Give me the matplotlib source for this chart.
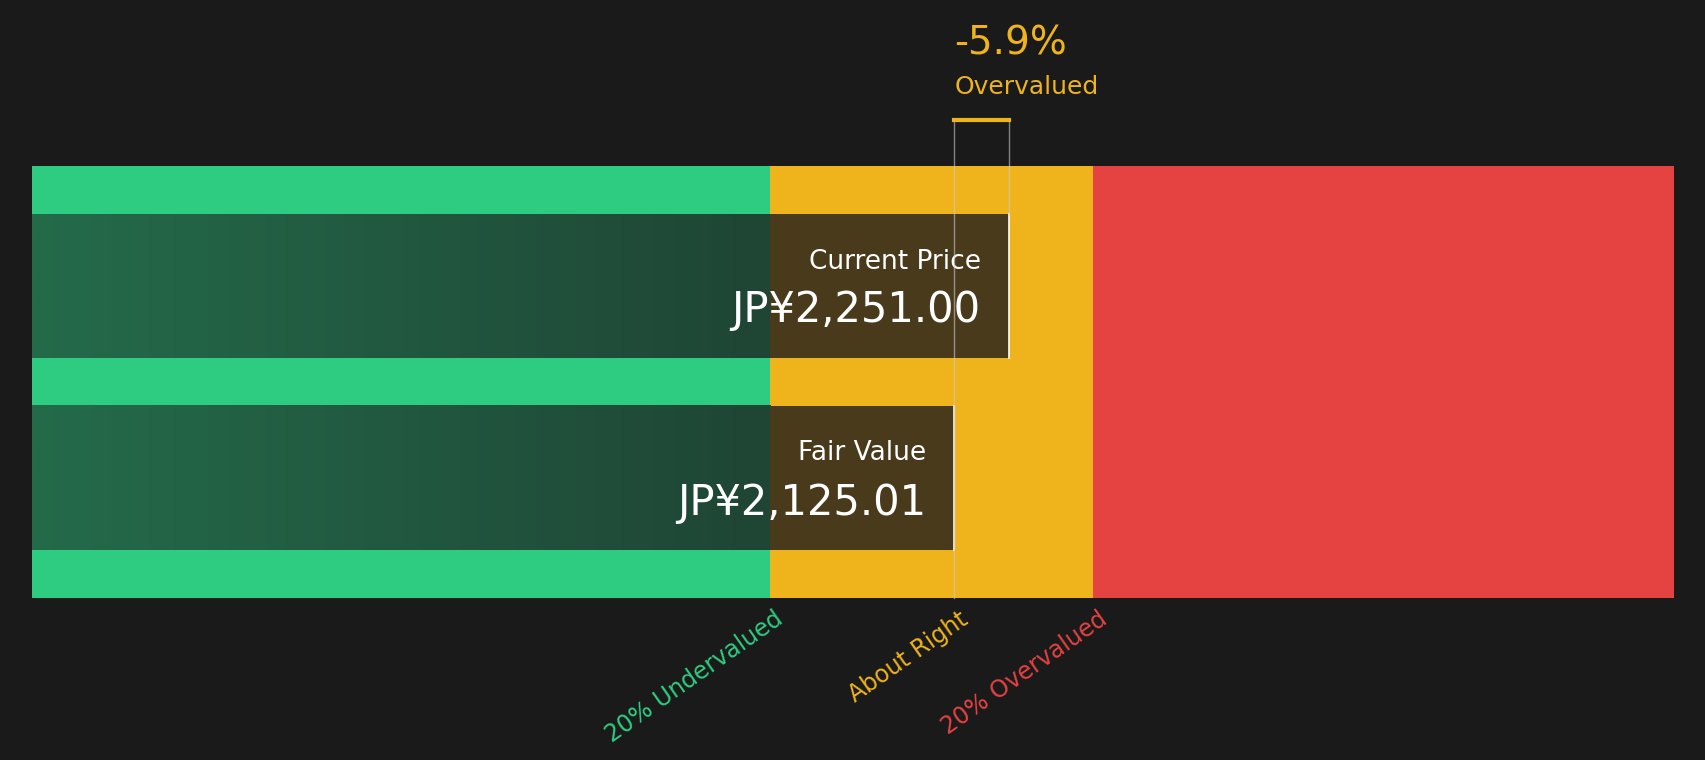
import matplotlib
matplotlib.use("Agg")
import matplotlib.pyplot as plt
import numpy as np

labels = ["Current Price", "Fair Value"]
values = [2251.00, 2125.01]
value_text = ["JP¥2,251.00", "JP¥2,125.01"]
zone_edges = [0, 1700, 2445, 3782]
zone_colors = ["#2ecc80", "#efb31c", "#e54242"]
zone_labels = ["20% Undervalued", "About Right", "20% Overvalued"]
pct_text = "-5.9%"
status_text = "Overvalued"

BG = "#1a1a1a"
fig = plt.figure(figsize=(17.06, 7.6), dpi=100, facecolor=BG)
ax = fig.add_axes([0.0185, 0.213, 0.9625, 0.568])
ax.set_facecolor(BG)
ax.set_xlim(zone_edges[0], zone_edges[-1])
ax.set_ylim(0, 397)
ax.axis("off")

for i in range(3):
    ax.axvspan(zone_edges[i], zone_edges[i+1], color=zone_colors[i], lw=0)

bars = [(353-132, 132), (44, 133)]  # (top offset from bottom, height): current top, fair lower
ybot = [397-176, 44]
h = [132, 133]
for i, v in enumerate(values):
    y0 = ybot[i]
    grad = np.linspace(0, 1, 256)[None, :]
    cmap = matplotlib.colors.LinearSegmentedColormap.from_list("g", ["#246b4a", "#1f4535"])
    ax.imshow(grad, extent=[0, zone_edges[1], y0, y0+h[i]], aspect="auto", cmap=cmap, zorder=2)
    ax.fill_between([zone_edges[1], v], y0, y0+h[i], color="#4a3a1c", lw=0, zorder=2)
    ax.plot([v, v], [y0, y0+h[i]], color="white", lw=1.2, zorder=3)
    off = 24 / 0.399 * (1706/1568) / (1706/1568)
    ax.text(v - 65, y0 + h[i]*0.67, labels[i], color="white", fontsize=19, ha="right", va="center", zorder=4)
    ax.text(v - 65, y0 + h[i]*0.33, value_text[i], color="white", fontsize=30, ha="right", va="center", zorder=4)

ax.set_aspect("auto")
cur, fv = values
ax.plot([fv, fv], [0, 440], color="#cccccc", lw=1, alpha=0.6, clip_on=False, zorder=5)
ax.plot([cur, cur], [397-44, 440], color="#cccccc", lw=1, alpha=0.6, clip_on=False, zorder=5)
ax.plot([fv, cur], [440, 440], color="#efb31c", lw=3, clip_on=False, zorder=6)
ax.text(fv, 510, pct_text, color="#efb31c", fontsize=28, ha="left", va="center", clip_on=False)
ax.text(fv, 470, status_text, color="#efb31c", fontsize=18, ha="left", va="center", clip_on=False)

lab_x = [zone_edges[1], fv, zone_edges[2]]
for x, t, c in zip(lab_x, zone_labels, zone_colors):
    ax.text(x + 10, -8, t, color=c, fontsize=17, rotation=35, ha="right", va="top",
            rotation_mode="anchor", clip_on=False)

fig.savefig("out.png", dpi=100, facecolor=BG)
